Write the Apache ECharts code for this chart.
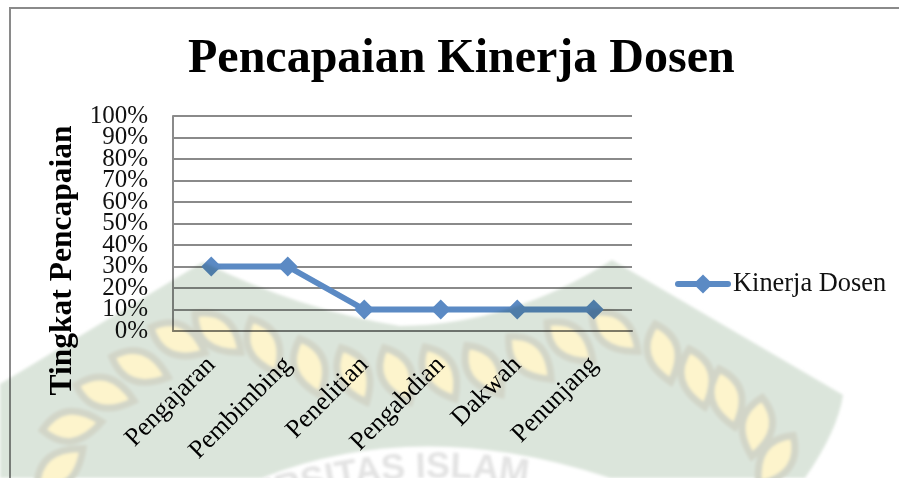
<!DOCTYPE html>
<html>
<head>
<meta charset="utf-8">
<style>
html,body{margin:0;padding:0;background:#fff;overflow:hidden;}
#frame{position:absolute;left:9px;top:7px;width:890px;height:471px;border-left:2px solid #8a8a8a;border-top:2px solid #8a8a8a;box-sizing:border-box;}
#chart{position:absolute;left:0;top:0;width:899px;height:478px;}
#mark{position:absolute;left:0;top:0;mix-blend-mode:multiply;pointer-events:none;}
</style>
<script src="https://cdn.jsdelivr.net/npm/echarts@6/dist/echarts.min.js"></script>
</head>
<body>
<div id="frame"></div>
<div id="chart"></div>
<!-- watermark behind the scanned chart -->
<svg id="mark" width="899" height="478">
<defs>
<path id="leaf" d="M-30 0 Q-4 -30 30 0 Q-4 30 -30 0Z" fill="#fdf4cc" stroke="#d2d5c8" stroke-width="7"/>
<filter id="soft"><feGaussianBlur stdDeviation="1.5"/></filter>
<path id="arc" d="M176 540 Q440 415 700 540"/>
</defs>
<g filter="url(#soft)">
<path d="M0 384 L203 262 Q300 310 400 326 Q510 325 612 260 L843 395 Q838 430 805 478 L0 478Z" fill="#dbe5db"/>
<path d="M262 478 Q420 415 610 478Z" fill="#fff"/>
<use href="#leaf" transform="translate(60 468) rotate(-40)"/>
<use href="#leaf" transform="translate(72 426) rotate(-8)"/>
<use href="#leaf" transform="translate(105 393) rotate(15)"/>
<use href="#leaf" transform="translate(140 367) rotate(20)"/>
<use href="#leaf" transform="translate(178 340) rotate(25)"/>
<use href="#leaf" transform="translate(218 333) rotate(40)"/>
<use href="#leaf" transform="translate(264 346) rotate(65)"/>
<use href="#leaf" transform="translate(310 367) rotate(70)"/>
<use href="#leaf" transform="translate(354 375) rotate(65)"/>
<use href="#leaf" transform="translate(397 375) rotate(65)"/>
<use href="#leaf" transform="translate(440 373) rotate(60)"/>
<use href="#leaf" transform="translate(484 370) rotate(55)"/>
<use href="#leaf" transform="translate(530 358) rotate(45)"/>
<use href="#leaf" transform="translate(570 342) rotate(40)"/>
<use href="#leaf" transform="translate(615 332) rotate(40)"/>
<use href="#leaf" transform="translate(663 353) rotate(75)"/>
<use href="#leaf" transform="translate(697 378) rotate(75)"/>
<use href="#leaf" transform="translate(727 398) rotate(75)"/>
<use href="#leaf" transform="translate(757 427) rotate(100)"/>
<use href="#leaf" transform="translate(776 460) rotate(125)"/>
</g>
<text font-family="Liberation Sans" font-weight="bold" font-size="36" fill="#e3e3e3" filter="url(#soft)"><textPath href="#arc" startOffset="0">UNIVERSITAS ISLAM</textPath></text>
</svg>
<script>
var categories=["Pengajaran","Pembimbing","Penelitian","Pengabdian","Dakwah","Penunjang"];
var kinerjaDosen=[30,30,10,10,10,10];
var evenTicks=[0,20,40,60,80,100];
var oddTicks=[10,30,50,70,90];
var seriesName="Kinerja Dosen";
var chartTitle="Pencapaian Kinerja Dosen";
var yAxisTitle="Tingkat Pencapaian";
var font="Liberation Serif";

var tickLabel={margin:25,fontFamily:font,fontSize:25,color:"#111",formatter:"{value}%",hideOverlap:false,showMinLabel:true,showMaxLabel:true};

var myChart=echarts.init(document.getElementById("chart"),null,{renderer:"canvas"});
var option={
    backgroundColor:"transparent",
    animation:false,
    title:{
        text:chartTitle,
        left:183,
        top:31,
        textStyle:{fontFamily:font,fontSize:48,fontWeight:"bold",color:"#000"}
    },
    legend:{
        data:[seriesName],
        left:670,
        top:266,
        itemWidth:50,
        itemHeight:24,
        itemGap:4,
        lineStyle:{width:6,cap:"round"},
        textStyle:{fontFamily:font,fontSize:26.4,color:"#111"}
    },
    grid:{left:173,right:267,top:116,bottom:147},
    xAxis:{
        type:"category",
        data:categories,
        boundaryGap:true,
        axisTick:{show:false},
        axisLine:{lineStyle:{color:"#7f7f7f",width:2}},
        axisLabel:{rotate:45,interval:0,margin:30,fontFamily:font,fontSize:26,color:"#000",hideOverlap:false}
    },
    //the labels sit closer than their own height, so they go on two axes or ECharts drops some
    yAxis:[{
        type:"value",
        min:0,
        max:100,
        interval:10,
        name:yAxisTitle,
        nameLocation:"middle",
        nameGap:90,
        nameRotate:90,
        nameTextStyle:{fontFamily:font,fontSize:31.5,fontWeight:"bold",color:"#000",padding:[0,74,0,0]},
        axisLine:{show:true,lineStyle:{color:"#8a8a8a",width:2}},
        axisTick:{show:false},
        axisLabel:Object.assign({customValues:evenTicks},tickLabel),
        splitLine:{show:true,lineStyle:{color:"#8a8a8a",width:2}}
    },{
        type:"value",
        position:"left",
        min:0,
        max:100,
        interval:10,
        axisLine:{show:false},
        axisTick:{show:false},
        axisLabel:Object.assign({customValues:oddTicks},tickLabel),
        splitLine:{show:false}
    }],
    series:[{
        name:seriesName,
        type:"line",
        data:kinerjaDosen,
        symbol:"diamond",
        symbolSize:20,
        lineStyle:{color:"#5b8ac4",width:6,cap:"round"},
        itemStyle:{color:"#5b8ac4"}
    }]
};
myChart.setOption(option);
</script>
</body>
</html>
